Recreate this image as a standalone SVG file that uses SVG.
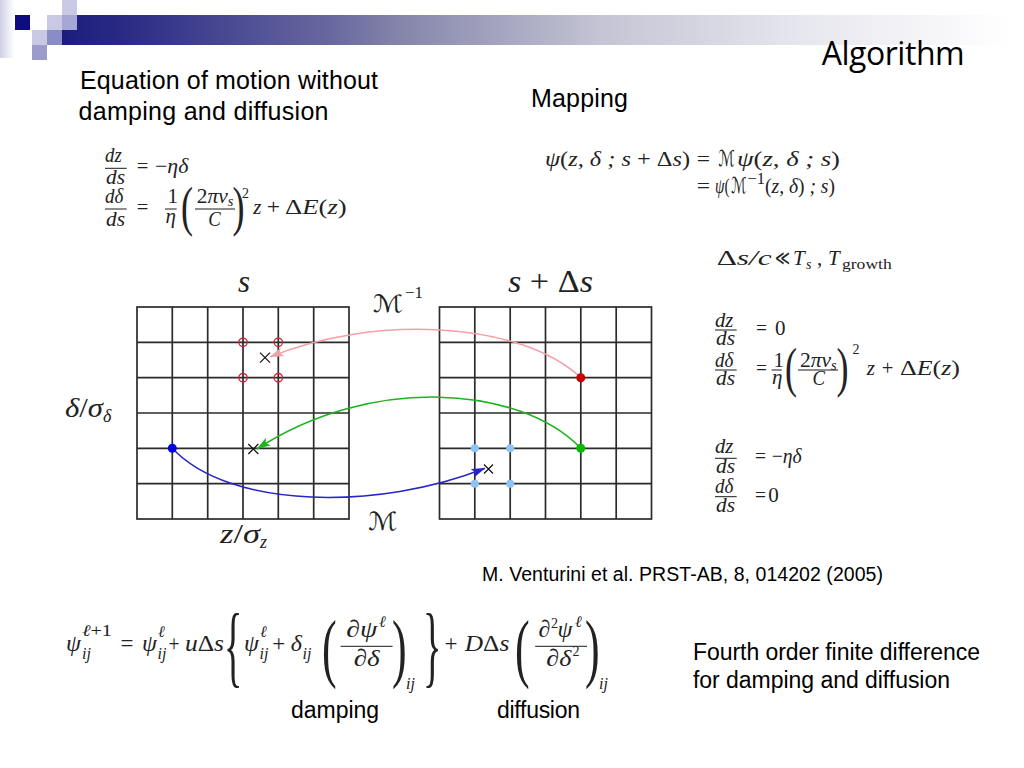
<svg xmlns="http://www.w3.org/2000/svg" width="1024" height="768" viewBox="0 0 1024 768">
<defs>
<linearGradient id="hg" gradientUnits="userSpaceOnUse" x1="62" y1="0" x2="1010" y2="0">
<stop offset="0" stop-color="#1c1c7e"/>
<stop offset="0.072" stop-color="#2c2c86"/>
<stop offset="0.283" stop-color="#6868a0"/>
<stop offset="0.357" stop-color="#8585ab"/>
<stop offset="0.567" stop-color="#c4c4d4"/>
<stop offset="0.778" stop-color="#e6e6ee"/>
<stop offset="1" stop-color="#ffffff"/>
</linearGradient>
<linearGradient id="sg" x1="0" x2="1"><stop offset="0" stop-color="#cfcfe6"/><stop offset="1" stop-color="#ffffff"/></linearGradient>
<marker id="ap" viewBox="0 0 14 9" refX="13.5" refY="4.5" markerWidth="14" markerHeight="9" markerUnits="userSpaceOnUse" orient="auto"><path d="M0,0 L14,4.5 L0,9 L3,4.5 z" fill="#f2a0a8"/></marker>
<marker id="ag" viewBox="0 0 14 9" refX="13.5" refY="4.5" markerWidth="14" markerHeight="9" markerUnits="userSpaceOnUse" orient="auto"><path d="M0,0 L14,4.5 L0,9 L3,4.5 z" fill="#1db31d"/></marker>
<marker id="ab" viewBox="0 0 14 9" refX="13.5" refY="4.5" markerWidth="14" markerHeight="9" markerUnits="userSpaceOnUse" orient="auto"><path d="M0,0 L14,4.5 L0,9 L3,4.5 z" fill="#2525c8"/></marker>
</defs>
<style>
.t{font-family:"Liberation Sans",Arial,sans-serif;fill:#000}
.m{font-family:"Liberation Serif","Times New Roman","DejaVu Serif",serif;font-style:italic;fill:#222;font-size:21px}
.u{font-style:normal}
.cal{font-family:"DejaVu Sans","DejaVu Serif",serif;font-style:normal}
.sym{font-family:"DejaVu Serif","DejaVu Sans",serif;font-style:normal}
.m22{font-size:22px}
.m24{font-size:24px}
.s13{font-size:14px}
.s15{font-size:16px}
.bar{stroke:#1a1a1a;stroke-width:1}
.gl{stroke:#2b2b2b;stroke-width:1.7;fill:none}
.xm{stroke:#111;stroke-width:1.2;fill:none}
.cn{fill:none;stroke-width:1.5}
</style>
<rect width="1024" height="768" fill="#fff"/>
<g id="header">
<rect x="0" y="0" width="14" height="58" fill="url(#sg)"/>
<rect x="62" y="15" width="962" height="30" fill="url(#hg)"/>
<rect x="62" y="15" width="15" height="15" fill="#a7a7d5"/>
<rect x="62" y="0" width="15" height="15" fill="#c9c9e3"/>
<rect x="15" y="15" width="15" height="15" fill="#0d0d80"/>
<rect x="47" y="15" width="15" height="15" fill="#c9c9e3"/>
<rect x="32" y="30" width="15" height="15" fill="#c9c9e3"/>
<rect x="47" y="30" width="15" height="15" fill="#8b8bc6"/>
<rect x="32" y="45" width="15" height="15" fill="#9c9ccc"/>
</g>
<g id="title"><text x="821.7" y="65" font-family="'Open Sans','DejaVu Sans',sans-serif" font-size="32" textLength="143" fill="#000">Algorithm</text></g>
<g id="labels">
<text class="t" x="80" y="89" font-size="25" textLength="298">Equation of motion without</text>
<text class="t" x="78.5" y="119.5" font-size="25" textLength="250">damping and diffusion</text>
<text class="t" x="531" y="106.5" font-size="25" textLength="97">Mapping</text>
<text class="t" x="482" y="581" font-size="19.5" textLength="401">M. Venturini et al. PRST-AB, 8, 014202 (2005)</text>
<text class="t" x="693" y="659.5" font-size="23" textLength="287">Fourth order finite difference</text>
<text class="t" x="693" y="688" font-size="23" textLength="257">for damping and diffusion</text>
<text class="t" x="291" y="718" font-size="23" textLength="88">damping</text>
<text class="t" x="497" y="718" font-size="23" textLength="83">diffusion</text>
</g>
<g id="eq-motion">
<text class="m" x="105" y="161.7" textLength="16.7" lengthAdjust="spacingAndGlyphs">dz</text>
<line class="bar" x1="105" y1="168.3" x2="126.7" y2="168.3"/>
<text class="m" x="106" y="183.5" textLength="19" lengthAdjust="spacingAndGlyphs">ds</text>
<text class="m u" x="136.7" y="173.3" textLength="11.6" lengthAdjust="spacingAndGlyphs">=</text>
<text class="m" x="155" y="173.3" textLength="33.3" lengthAdjust="spacingAndGlyphs"><tspan class="u">−</tspan>ηδ</text>
<text class="m" x="105" y="203.3" textLength="18.3" lengthAdjust="spacingAndGlyphs">dδ</text>
<line class="bar" x1="105" y1="209" x2="126.7" y2="209"/>
<text class="m" x="106" y="225.5" textLength="19" lengthAdjust="spacingAndGlyphs">ds</text>
<text class="m u" x="136.7" y="214" textLength="11.6" lengthAdjust="spacingAndGlyphs">=</text>
<text class="m u" x="167.5" y="203.3">1</text>
<line class="bar" x1="165" y1="209" x2="176.7" y2="209"/>
<text class="m" x="165.5" y="223">η</text>
<text class="m u" style="font-size:36px" transform="translate(181,224.5) scale(1,1.5)">(</text>
<text class="m" x="196.7" y="203.3" textLength="36.6" lengthAdjust="spacingAndGlyphs"><tspan class="u">2</tspan>πν<tspan class="s13" dy="3">s</tspan></text>
<line class="bar" x1="195" y1="209" x2="235" y2="209"/>
<text class="m" x="208.3" y="225.5" textLength="12.5" lengthAdjust="spacingAndGlyphs">C</text>
<text class="m u" style="font-size:36px" transform="translate(232.5,224.5) scale(1,1.5)">)</text>
<text class="m u s13" x="242" y="197.5">2</text>
<text class="m" x="253.3" y="214">z</text>
<text class="m u" x="266.7" y="214" textLength="13.3" lengthAdjust="spacingAndGlyphs">+</text>
<text class="m" x="285" y="214" textLength="61.7" lengthAdjust="spacingAndGlyphs"><tspan class="u">Δ</tspan>E<tspan class="u">(</tspan>z<tspan class="u">)</tspan></text>
</g>
<g id="eq-mapping">
<text class="m m22" x="545" y="166" textLength="145" lengthAdjust="spacingAndGlyphs">ψ<tspan class="u">(</tspan>z, δ ; s <tspan class="u">+ Δ</tspan>s<tspan class="u">)</tspan></text>
<text class="m m22 u" x="696.7" y="166" textLength="13.3" lengthAdjust="spacingAndGlyphs">=</text>
<text class="m m22 cal" x="718.3" y="166" textLength="16.5" lengthAdjust="spacingAndGlyphs">ℳ</text>
<text class="m m22" x="737" y="166" textLength="103" lengthAdjust="spacingAndGlyphs">ψ<tspan class="u">(</tspan>z, δ ; s<tspan class="u">)</tspan></text>
<text class="m m22 u" x="696.7" y="193" textLength="13.3" lengthAdjust="spacingAndGlyphs">=</text>
<text class="m m22" x="715" y="193" textLength="14.5" lengthAdjust="spacingAndGlyphs">ψ<tspan class="u">(</tspan></text>
<text class="m m22 cal" x="731" y="193" textLength="15.5" lengthAdjust="spacingAndGlyphs">ℳ</text>
<text class="m u s15" x="747.5" y="184" textLength="17.5" lengthAdjust="spacingAndGlyphs">−1</text>
<text class="m m22" x="765" y="193" textLength="70" lengthAdjust="spacingAndGlyphs"><tspan class="u">(</tspan>z, δ<tspan class="u">)</tspan> ; s<tspan class="u">)</tspan></text>
</g>
<g id="eq-condition">
<text class="m" x="716.7" y="265" textLength="55" lengthAdjust="spacingAndGlyphs"><tspan class="u">Δ</tspan>s/c</text>
<text class="m sym" x="775" y="265" textLength="15" lengthAdjust="spacingAndGlyphs">≪</text>
<text class="m" x="793" y="265">T</text>
<text class="m s13" x="806" y="269">s</text>
<text class="m u" x="817" y="265">,</text>
<text class="m" x="828" y="265">T</text>
<text class="m u s13" x="842" y="269" textLength="49.7" lengthAdjust="spacingAndGlyphs">growth</text>
</g>
<g id="eq-kick">
<text class="m" x="715" y="326.7" textLength="18.3" lengthAdjust="spacingAndGlyphs">dz</text>
<line class="bar" x1="715" y1="330" x2="736.7" y2="330"/>
<text class="m" x="716" y="345" textLength="19" lengthAdjust="spacingAndGlyphs">ds</text>
<text class="m u" x="756" y="335" textLength="11" lengthAdjust="spacingAndGlyphs">=</text>
<text class="m u" x="775" y="335">0</text>
<text class="m" x="715" y="366.7" textLength="18.3" lengthAdjust="spacingAndGlyphs">dδ</text>
<line class="bar" x1="715" y1="370" x2="736.7" y2="370"/>
<text class="m" x="716" y="385" textLength="19" lengthAdjust="spacingAndGlyphs">ds</text>
<text class="m u" x="756" y="375" textLength="11" lengthAdjust="spacingAndGlyphs">=</text>
<text class="m u" x="773.5" y="366.7">1</text>
<line class="bar" x1="771.7" y1="370" x2="781.7" y2="370"/>
<text class="m" x="772" y="384">η</text>
<text class="m u" style="font-size:36px" transform="translate(785,385.5) scale(1,1.5)">(</text>
<text class="m" x="800" y="366.7" textLength="36.7" lengthAdjust="spacingAndGlyphs"><tspan class="u">2</tspan>πν<tspan class="s13" dy="3">s</tspan></text>
<line class="bar" x1="798" y1="370" x2="838" y2="370"/>
<text class="m" x="812.5" y="385" textLength="12.5" lengthAdjust="spacingAndGlyphs">C</text>
<text class="m u" style="font-size:36px" transform="translate(836.5,385.5) scale(1,1.5)">)</text>
<text class="m u s13" x="852.5" y="353.5">2</text>
<text class="m" x="866.7" y="375">z</text>
<text class="m u" x="881.7" y="375" textLength="11.6" lengthAdjust="spacingAndGlyphs">+</text>
<text class="m" x="900" y="375" textLength="60" lengthAdjust="spacingAndGlyphs"><tspan class="u">Δ</tspan>E<tspan class="u">(</tspan>z<tspan class="u">)</tspan></text>
</g>
<g id="eq-drift">
<text class="m" x="715" y="453.3" textLength="18.3" lengthAdjust="spacingAndGlyphs">dz</text>
<line class="bar" x1="715" y1="458.3" x2="736.7" y2="458.3"/>
<text class="m" x="716" y="473.3" textLength="19" lengthAdjust="spacingAndGlyphs">ds</text>
<text class="m u" x="755" y="463" textLength="11" lengthAdjust="spacingAndGlyphs">=</text>
<text class="m" x="771.7" y="463" textLength="30" lengthAdjust="spacingAndGlyphs"><tspan class="u">−</tspan>ηδ</text>
<text class="m" x="715" y="493.3" textLength="18.3" lengthAdjust="spacingAndGlyphs">dδ</text>
<line class="bar" x1="715" y1="496.7" x2="736.7" y2="496.7"/>
<text class="m" x="716" y="511.7" textLength="19" lengthAdjust="spacingAndGlyphs">ds</text>
<text class="m u" x="755" y="501.7" textLength="11" lengthAdjust="spacingAndGlyphs">=</text>
<text class="m u" x="768.3" y="501.7">0</text>
</g>
<g id="eq-scheme">
<text class="m m24" x="66" y="651">ψ</text>
<text class="m s15" x="82" y="636" textLength="30" lengthAdjust="spacingAndGlyphs">ℓ<tspan class="u">+1</tspan></text>
<text class="m s15" x="82" y="659">ij</text>
<text class="m m24 u" x="120.4" y="651" textLength="13" lengthAdjust="spacingAndGlyphs">=</text>
<text class="m m24" x="142" y="651">ψ</text>
<text class="m s15" x="158" y="637">ℓ</text>
<text class="m s15" x="157.5" y="659">ij</text>
<text class="m m24 u" x="168.5" y="651" textLength="11" lengthAdjust="spacingAndGlyphs">+</text>
<text class="m m24" x="185" y="651" textLength="39" lengthAdjust="spacingAndGlyphs">u<tspan class="u">Δ</tspan>s</text>
<text class="m u" style="font-size:45px" transform="translate(224,676) scale(0.85,2)">{</text>
<text class="m m24" x="244" y="651">ψ</text>
<text class="m s15" x="260" y="637">ℓ</text>
<text class="m s15" x="259.5" y="659">ij</text>
<text class="m m24 u" x="272.2" y="651" textLength="13" lengthAdjust="spacingAndGlyphs">+</text>
<text class="m m24" x="290.7" y="651">δ</text>
<text class="m s15" x="302.5" y="659">ij</text>
<text class="m u" style="font-size:44px" transform="translate(322,673) scale(1,1.75)">(</text>
<text class="m m24" x="346.3" y="637" textLength="31" lengthAdjust="spacingAndGlyphs">∂ψ</text>
<text class="m s15" x="379" y="627">ℓ</text>
<line class="bar" x1="340.7" y1="646.3" x2="392.6" y2="646.3"/>
<text class="m m24" x="353.7" y="665.5" textLength="26" lengthAdjust="spacingAndGlyphs">∂δ</text>
<text class="m u" style="font-size:44px" transform="translate(392,673) scale(1,1.75)">)</text>
<text class="m s15" x="406" y="689">ij</text>
<text class="m u" style="font-size:45px" transform="translate(423,676) scale(0.85,2)">}</text>
<text class="m m24 u" x="444.4" y="651" textLength="13" lengthAdjust="spacingAndGlyphs">+</text>
<text class="m m24" x="464.8" y="651" textLength="44.5" lengthAdjust="spacingAndGlyphs">D<tspan class="u">Δ</tspan>s</text>
<text class="m u" style="font-size:44px" transform="translate(515,673) scale(1,1.75)">(</text>
<text class="m m24" x="538.5" y="637">∂</text>
<text class="m u s13" x="551" y="628">2</text>
<text class="m m24" x="557.5" y="637">ψ</text>
<text class="m s15" x="575" y="627">ℓ</text>
<line class="bar" x1="535.2" y1="646.3" x2="587" y2="646.3"/>
<text class="m m24" x="546.3" y="665.5" textLength="25" lengthAdjust="spacingAndGlyphs">∂δ</text>
<text class="m u s13" x="572.5" y="656">2</text>
<text class="m u" style="font-size:44px" transform="translate(585,673) scale(1,1.75)">)</text>
<text class="m s15" x="599" y="689">ij</text>
</g>
<g id="grid-s">
<rect class="gl" x="137" y="307" width="212" height="212"/>
<path class="gl" d="M172.3,307V519M207.7,307V519M243,307V519M278.3,307V519M313.7,307V519M137,342.3H349M137,377.7H349M137,413H349M137,448.3H349M137,483.7H349"/>
<text class="m" x="238" y="292" style="font-size:31px">s</text>
<text class="m" x="65" y="417" style="font-size:27px" textLength="38" lengthAdjust="spacingAndGlyphs">δ<tspan class="u">/</tspan>σ</text>
<text class="m" x="103" y="422" style="font-size:18px">δ</text>
<text class="m" x="220" y="543" style="font-size:27px" textLength="40" lengthAdjust="spacingAndGlyphs">z<tspan class="u">/</tspan>σ</text>
<text class="m" x="260" y="548" style="font-size:18px">z</text>
</g>
<g id="grid-s-ds">
<rect class="gl" x="439.5" y="307" width="212" height="212"/>
<path class="gl" d="M474.8,307V519M510.2,307V519M545.5,307V519M580.8,307V519M616.2,307V519M439.5,342.3H651.5M439.5,377.7H651.5M439.5,413H651.5M439.5,448.3H651.5M439.5,483.7H651.5"/>
<text class="m" x="508" y="292" style="font-size:31px" textLength="85" lengthAdjust="spacingAndGlyphs">s<tspan class="u"> + Δ</tspan>s</text>
</g>
<g id="connectors">
<path class="cn" stroke="#f2a0a8" d="M580.8,377.7 C520,320 370,315 270,357" marker-end="url(#ap)"/>
<path class="cn" stroke="#1db31d" d="M580.8,448.3 C520,385 370,375 257,449" marker-end="url(#ag)"/>
<path class="cn" stroke="#2525c8" d="M172.3,448.3 C230,510 380,510 485,468.3" marker-end="url(#ab)"/>
<text class="m cal" x="373" y="312" style="font-size:24px" textLength="30" lengthAdjust="spacingAndGlyphs">ℳ</text>
<text class="m u s15" x="405" y="298" textLength="18" lengthAdjust="spacingAndGlyphs">−1</text>
<text class="m cal" x="368" y="530" style="font-size:25px" textLength="29" lengthAdjust="spacingAndGlyphs">ℳ</text>
</g>
<g id="points">
<g fill="none" stroke="#cc2233" stroke-width="1.3">
<circle cx="243" cy="342.3" r="4.2"/><circle cx="278.3" cy="342.3" r="4.2"/>
<circle cx="243" cy="377.7" r="4.2"/><circle cx="278.3" cy="377.7" r="4.2"/>
</g>
<path class="xm" d="M260,352.7l10,10M270,352.7l-10,10"/>
<path class="xm" d="M248.3,444l10,10M258.3,444l-10,10"/>
<path class="xm" d="M484,464.5l9,9M493,464.5l-9,9"/>
<circle cx="580.8" cy="377.7" r="4.5" fill="#cc0000"/>
<circle cx="580.8" cy="448.3" r="4.5" fill="#00bb00"/>
<circle cx="172.3" cy="448.3" r="4.5" fill="#0000dd"/>
<g fill="#8fc3f5">
<circle cx="474.8" cy="448.3" r="4"/><circle cx="510.2" cy="448.3" r="4"/>
<circle cx="474.8" cy="483.7" r="4"/><circle cx="510.2" cy="483.7" r="4"/>
</g>
</g>
</svg>
